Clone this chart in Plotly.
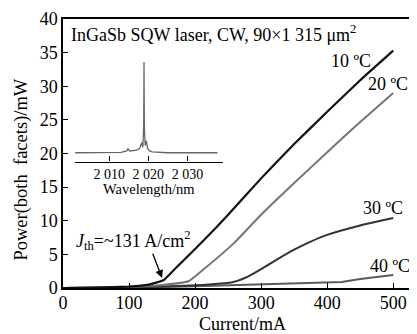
import plotly.graph_objects as go

# Main L-I data (current mA, power mW)
cur_10 = [0, 50, 100, 130, 152, 170, 200, 233, 250, 300, 325, 350, 400, 450, 500]
pow_10 = [0, 0.05, 0.2, 0.5, 1.15, 2.9, 5.8, 9.1, 10.9, 16.3, 18.9, 21.4, 26.2, 30.9, 35.3]

cur_20 = [0, 100, 150, 190, 212, 258, 300, 350, 400, 450, 500]
pow_20 = [0, 0.15, 0.45, 1.0, 2.7, 6.6, 10.9, 15.6, 20.2, 24.7, 29.0]

cur_30 = [0, 100, 200, 258, 280, 300, 325, 350, 375, 400, 450, 500]
pow_30 = [0, 0.1, 0.4, 0.9, 1.7, 2.8, 4.3, 5.7, 6.9, 7.9, 9.3, 10.4]

cur_40 = [0, 100, 200, 300, 400, 422, 450, 475, 500]
pow_40 = [0, 0.05, 0.25, 0.5, 0.75, 0.9, 1.35, 1.7, 1.95]

# Inset spectrum (wavelength nm, relative intensity)
wl = [2001.3, 2005, 2010, 2013, 2014.5, 2014.8, 2015.2, 2016, 2017, 2017.8, 2018.3,
      2018.6, 2018.82, 2018.9, 2018.98, 2019.2, 2019.5, 2019.8, 2020.3, 2021, 2025,
      2030, 2035, 2037.7]
inten = [0.0, 0.0, 0.0, 0.005, 0.02, 0.045, 0.02, 0.025, 0.03, 0.05, 0.11,
         0.06, 0.3, 1.0, 0.3, 0.08, 0.13, 0.05, 0.02, 0.01, 0.0,
         0.0, 0.0, 0.0]

x_ticks = [0, 100, 200, 300, 400, 500]
y_ticks = [0, 5, 10, 15, 20, 25, 30, 35, 40]
inset_ticks = [2010, 2020, 2030]
inset_ticktext = ["2 010", "2 020", "2 030"]

FONT = '"Liberation Serif", "Times New Roman", Times, serif'

fig = go.Figure()
fig.add_trace(go.Scatter(x=cur_40, y=pow_40, mode="lines", line=dict(color="#5a5a5a", width=2)))
fig.add_trace(go.Scatter(x=cur_30, y=pow_30, mode="lines", line=dict(color="#333333", width=2, shape="spline", smoothing=0.4)))
fig.add_trace(go.Scatter(x=cur_20, y=pow_20, mode="lines", line=dict(color="#757575", width=2, shape="spline", smoothing=0.4)))
fig.add_trace(go.Scatter(x=cur_10, y=pow_10, mode="lines", line=dict(color="#111111", width=2.2, shape="spline", smoothing=0.3)))

fig.add_trace(go.Scatter(x=wl, y=inten, mode="lines", line=dict(color="#666666", width=1.3),
                         xaxis="x2", yaxis="y2"))

fig.update_layout(
    width=409, height=326,
    margin=dict(l=55, r=0, t=11, b=46, autoexpand=False),
    paper_bgcolor="white", plot_bgcolor="white",
    showlegend=False,
    font=dict(family=FONT, size=18, color="black"),
    xaxis=dict(range=[0, 536], tickvals=x_ticks, showline=True, linecolor="black", linewidth=1.5,
               mirror=True, ticks="inside", ticklen=5, tickcolor="black", showgrid=False,
               zeroline=False, automargin=False, ticklabelstandoff=-2,
               tickfont=dict(family=FONT, size=18)),
    yaxis=dict(range=[0, 40], tickvals=y_ticks, showline=True, linecolor="black", linewidth=1.5,
               ticks="inside", ticklen=5, tickcolor="black", showgrid=False, zeroline=False,
               automargin=False, tickfont=dict(family=FONT, size=18)),
    xaxis2=dict(domain=[0.034, 0.453], anchor="y2", range=[2001.25, 2039.2],
                tickvals=inset_ticks, ticktext=inset_ticktext, showline=True, linecolor="black",
                linewidth=1.2, ticks="inside", ticklen=5, tickcolor="black", showgrid=False,
                zeroline=False, automargin=False, tickfont=dict(family=FONT, size=14)),
    yaxis2=dict(domain=[0.470, 0.866], anchor="x2", range=[-0.097, 1.077], visible=False),
)

# axis titles as paper annotations
fig.add_annotation(x=0.506, y=-0.132, xref="paper", yref="paper", text="Current/mA",
                   showarrow=False, xanchor="center", yanchor="middle",
                   font=dict(family=FONT, size=18))
fig.add_annotation(x=-0.116, y=0.44, xref="paper", yref="paper", text="Power(both  facets)/mW",
                   textangle=-90, showarrow=False, xanchor="center", yanchor="middle",
                   font=dict(family=FONT, size=18.5))
fig.add_annotation(x=0.244, y=0.368, xref="paper", yref="paper", text="Wavelength/nm",
                   showarrow=False, xanchor="center", yanchor="middle",
                   font=dict(family=FONT, size=14.5))

fig.add_annotation(x=9, y=37.9, xref="x", yref="y", text="InGaSb SQW laser, CW, 90×1 315 μm<sup>2</sup>",
                   showarrow=False, xanchor="left", yanchor="middle", font=dict(family=FONT, size=18))
fig.add_annotation(x=16.6, y=7.1, xref="x", yref="y",
                   text="<i>J</i><sub>th</sub>=~131 A/cm<sup>2</sup>",
                   showarrow=False, xanchor="left", yanchor="middle", font=dict(family=FONT, size=18))
fig.add_annotation(x=150, y=1.5, ax=135, ay=5.3, xref="x", yref="y", axref="x", ayref="y",
                   text="", showarrow=True, arrowhead=2, arrowsize=1.2, arrowwidth=1.3,
                   arrowcolor="black")

temp_labels = ["10 ºC", "20 ºC", "30 ºC", "40 ºC"]
temp_x = [436, 492, 485, 495]
temp_y = [33.7, 30.3, 11.9, 3.3]
for t, tx, ty in zip(temp_labels, temp_x, temp_y):
    fig.add_annotation(x=tx, y=ty, xref="x", yref="y", text=t, showarrow=False,
                       xanchor="center", yanchor="middle", font=dict(family=FONT, size=18))

fig.write_html("out.html")
